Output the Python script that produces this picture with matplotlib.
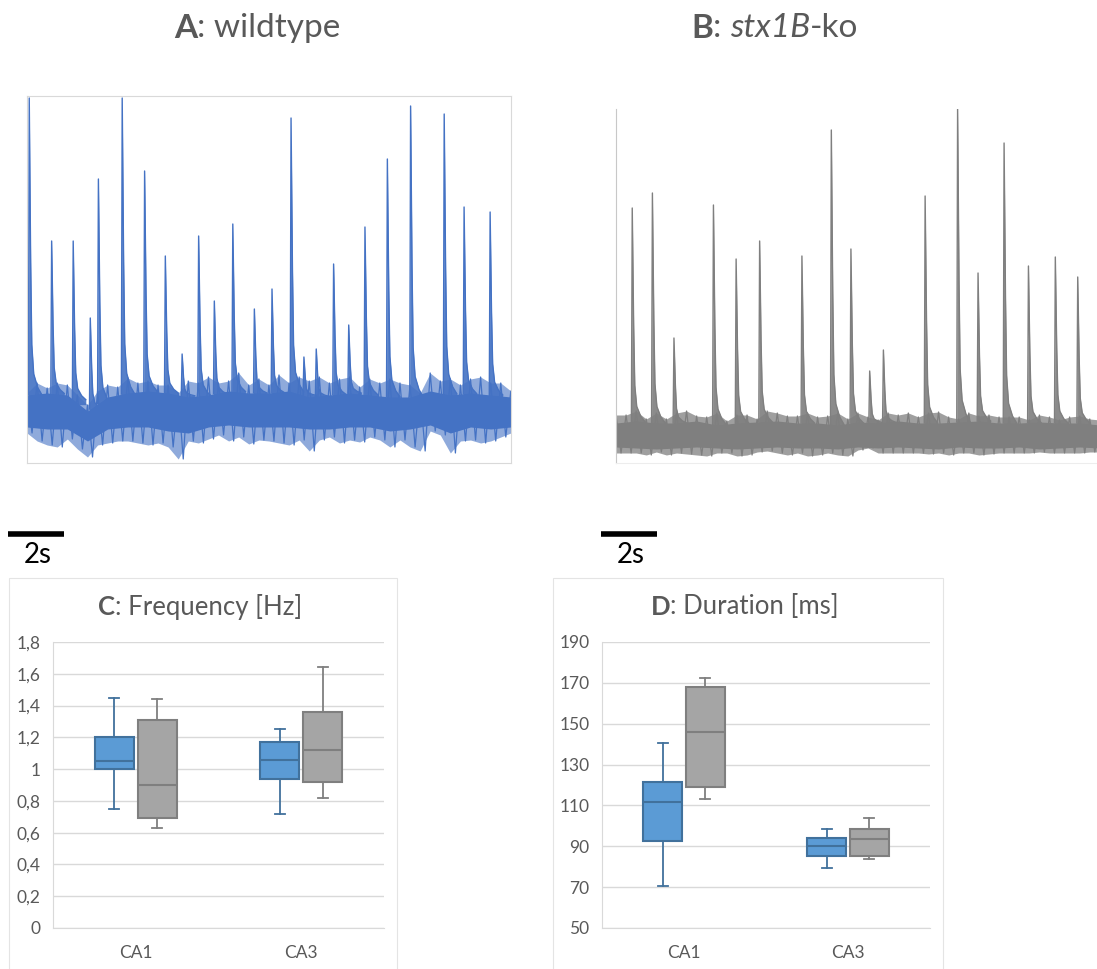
import numpy as np
import matplotlib
matplotlib.use("Agg")
import matplotlib.pyplot as plt
from matplotlib.patches import Rectangle
from matplotlib.ticker import FuncFormatter

plt.rcParams['font.family'] = ['Lato', 'DejaVu Sans']
plt.rcParams['mathtext.fontset'] = 'custom'
plt.rcParams['mathtext.rm'] = 'Lato'
plt.rcParams['mathtext.bf'] = 'Lato:bold'
plt.rcParams['mathtext.it'] = 'Lato:italic'

# ---------------- trace data (time in s, amplitude in arbitrary units) ----------------
A_SPIKE_T = [0.08, 0.88, 1.65, 2.26, 2.55, 3.40, 4.20, 4.94, 5.54, 6.13, 6.69, 7.35, 8.12,
             8.75, 9.43, 9.89, 10.33, 10.95, 11.49, 12.07, 12.87, 13.70, 14.90, 15.61, 16.54]
A_SPIKE_H = [365, 222, 222, 145, 284, 365, 292, 207, 109, 227, 162, 239, 154,
             174, 345, 106, 114, 199, 138, 236, 304, 357, 349, 256, 251]

# envelope of the baseline noise, read every 0.36 s
A_BAND_HI = [70, 80, 75, 80, 78, 68, 58, 72, 78, 76, 85, 80, 82, 78, 78, 70, 82, 80, 86, 80,
             82, 90, 78, 84, 78, 88, 80, 86, 82, 86, 80, 84, 86, 76, 84, 80, 84, 80, 78, 70,
             90, 82, 84, 78, 84, 86, 80, 80, 72]
A_BAND_LO = [30, 22, 18, 16, 24, 14, 6, 18, 20, 22, 22, 20, 18, 20, 16, 4, 22, 20, 24, 28,
             22, 26, 19, 23, 22, 20, 18, 23, 12, 23, 26, 20, 23, 21, 26, 23, 16, 23, 16, 12,
             32, 28, 10, 22, 23, 20, 22, 26, 30]
# dense core of the baseline, read every 0.72 s
A_CORE_HI = [68, 70, 68, 52, 66, 70, 72, 70, 66, 68, 72, 70, 70, 72, 66, 68, 70, 68, 66, 66,
             72, 68, 70, 68, 66]
A_CORE_LO = [36, 34, 34, 22, 34, 36, 36, 32, 30, 36, 38, 36, 36, 36, 34, 34, 36, 36, 32, 34,
             38, 30, 36, 34, 36]

B_SPIKE_T = [0.58, 1.30, 2.07, 3.48, 4.29, 5.13, 6.64, 7.69, 8.39, 9.06, 9.55, 11.04, 12.20,
             12.93, 13.86, 14.73, 15.69, 16.49]
B_SPIKE_H = [255, 270, 125, 258, 204, 222, 207, 333, 214, 92, 113, 267, 354, 190, 320, 197,
             206, 186]

B_BAND_HI = [48, 48, 52, 44, 50, 44, 50, 52, 47, 46, 50, 42, 48, 48, 44, 52, 50, 47, 47, 50,
             46, 47, 50, 44, 50, 46, 43, 50, 48, 50, 46, 50, 51, 46, 44, 50, 47, 48, 46, 46,
             46, 43, 48, 46, 43, 46, 47, 44, 43]
B_BAND_LO = [10, 10, 10, 8, 11, 8, 10, 9, 8, 7, 10, 10, 7, 8, 11, 12, 10, 8, 10, 7,
             8, 10, 8, 7, 13, 15, 10, 10, 10, 10, 10, 9, 10, 8, 10, 10, 8, 9, 10, 10,
             10, 10, 11, 10, 10, 10, 10, 11, 11]
B_CORE_HI = [40, 42, 40, 40, 42, 38, 40, 41, 42, 40, 40, 38, 41, 40, 42, 40, 40, 41, 42, 40,
             40, 41, 40, 40, 38]
B_CORE_LO = [16, 15, 14, 15, 16, 15, 14, 15, 16, 15, 15, 14, 16, 15, 16, 15, 14, 16, 15, 15,
             16, 14, 15, 16, 15]

# ---------------- box plot data: (whisker low, Q1, median, Q3, whisker high) ----------------
CATEGORIES = ["CA1", "CA3"]
FREQ_WT = [(0.75, 1.00, 1.05, 1.20, 1.45), (0.72, 0.94, 1.06, 1.17, 1.25)]
FREQ_KO = [(0.63, 0.69, 0.90, 1.31, 1.44), (0.82, 0.92, 1.12, 1.36, 1.64)]
DUR_WT = [(70.8, 92.8, 111.7, 121.3, 140.4), (79.6, 85.3, 89.9, 94.1, 98.7)]
DUR_KO = [(113.2, 119.0, 146.0, 168.0, 172.6), (84.0, 85.3, 93.5, 98.7, 103.7)]

BLUE_TRACE = '#4472C4'
GRAY_TRACE = '#7F7F7F'
BLUE_FILL, BLUE_EDGE = '#5B9BD5', '#41719C'
GRAY_FILL, GRAY_EDGE = '#A5A5A5', '#7F7F7F'
TXT = '#595959'
GRID = '#D9D9D9'

W, H = 1097, 969
fig = plt.figure(figsize=(W / 100, H / 100), dpi=100)
renderer = fig.canvas.get_renderer()


def rect(l, t, r, b):
    return [l / W, 1 - b / H, (r - l) / W, (b - t) / H]


# spike template (offset in s, fraction of amplitude)
SPIKE_DT = np.array([-0.03, 0.0, 0.05, 0.09, 0.16, 0.30, 0.45])
SPIKE_SHAPE = np.array([0.0, 1.0, 0.45, 0.17, 0.07, 0.025, 0.0])


def draw_trace(ax, band_hi, band_lo, core_hi, core_lo, spike_t, spike_h, color, fringe):
    t_band = np.linspace(0, 0.36 * (len(band_hi) - 1), len(band_hi))
    t_core = np.linspace(0, t_band[-1], len(core_hi))
    ax.fill_between(t_band, band_lo, band_hi, color=color, alpha=fringe, lw=0)
    ax.fill_between(t_core, core_lo, core_hi, color=color, lw=0)
    # noise texture: zig-zag between the read upper and lower envelope values
    zx = np.column_stack([t_band, t_band + 0.18]).ravel()
    zy = np.column_stack([band_hi, band_lo]).ravel()
    ax.plot(zx, zy, color=color, lw=0.9)
    base = np.interp(spike_t, t_core, core_hi)
    for t, h, b in zip(spike_t, spike_h, base):
        xs = t + SPIKE_DT
        ys = b + SPIKE_SHAPE * (h - b)
        ax.fill_between(xs, b - 5, ys, color=color, lw=0, alpha=0.9)
        ax.plot(xs, ys, color=color, lw=1.0)


def scale_bar(ax, x0, y):
    ax.plot([x0, x0 + 2], [y, y], color='black', lw=4, clip_on=False, solid_capstyle='butt')
    ax.text(x0 + 1.05, y - 21, "2s", ha='center', va='center', fontsize=20, color='black',
            clip_on=False)


def rich_text(xc, yc, parts, size):
    # place differently styled pieces next to each other, centred on xc (pixels)
    items = []
    for s, weight, style in parts:
        t = fig.text(0, 1 - yc / H, s, fontsize=size, fontweight=weight, fontstyle=style,
                     color=TXT, va='center', ha='left')
        items.append((t, t.get_window_extent(renderer).width))
    x = xc - sum(w for _, w in items) / 2
    for t, w in items:
        t.set_x(x / W)
        x += w


# ---- A: wildtype
axA = fig.add_axes(rect(27, 96, 511, 463))
draw_trace(axA, A_BAND_HI, A_BAND_LO, A_CORE_HI, A_CORE_LO, A_SPIKE_T, A_SPIKE_H,
           BLUE_TRACE, 0.6)
axA.set_xlim(0, 484 / 28)
axA.set_ylim(0, 367)
axA.set_xticks([])
axA.set_yticks([])
for s in axA.spines.values():
    s.set_color(GRID)
    s.set_linewidth(0.8)
scale_bar(axA, -0.68, -71)

# ---- B: stx1B-ko
axB = fig.add_axes(rect(616, 109, 1097, 463))
draw_trace(axB, B_BAND_HI, B_BAND_LO, B_CORE_HI, B_CORE_LO, B_SPIKE_T, B_SPIKE_H,
           GRAY_TRACE, 0.75)
axB.set_xlim(0, 481 / 28)
axB.set_ylim(0, 354)
axB.set_xticks([])
axB.set_yticks([])
axB.spines['top'].set_visible(False)
axB.spines['right'].set_visible(False)
axB.spines['left'].set_color('#C8C8C8')
axB.spines['bottom'].set_color('#EDEDED')
scale_bar(axB, -0.54, -71)

rich_text(257, 28, [("A", 'bold', 'normal'), (": wildtype", 'normal', 'normal')], 24)
rich_text(775, 28, [("B", 'bold', 'normal'), (": ", 'normal', 'normal'),
                    ("stx1B", 'normal', 'italic'), ("-ko", 'normal', 'normal')], 24)


# ---- box plots
def stats(rows):
    return [dict(whislo=r[0], q1=r[1], med=r[2], q3=r[3], whishi=r[4], fliers=[]) for r in rows]


def box_panel(frame, axrect, letter, title, wt, ko, ylim, yticks):
    fig.add_artist(Rectangle((frame[0] / W, 1 - frame[3] / H), (frame[2] - frame[0]) / W,
                             (frame[3] - frame[1]) / H, transform=fig.transFigure,
                             fill=False, edgecolor='#E4E4E4', lw=0.8))
    rich_text((frame[0] + frame[2]) / 2 - 3, frame[1] + 29,
              [(letter, 'bold', 'normal'), (title, 'normal', 'normal')], 18.5)
    ax = fig.add_axes(rect(*axrect))
    x = np.arange(len(CATEGORIES))
    for data, off, fc, ec in [(wt, -0.13, BLUE_FILL, BLUE_EDGE), (ko, 0.13, GRAY_FILL, GRAY_EDGE)]:
        ax.bxp(stats(data), positions=x + off, widths=0.235, capwidths=0.06,
               patch_artist=True, showfliers=False,
               boxprops=dict(facecolor=fc, edgecolor=ec, linewidth=1.5),
               medianprops=dict(color=ec, linewidth=1.5),
               whiskerprops=dict(color=ec, linewidth=1.3),
               capprops=dict(color=ec, linewidth=1.3), zorder=3)
    ax.set_xlim(-0.5, len(CATEGORIES) - 0.5)
    ax.set_xticks(x)
    ax.set_xticklabels(CATEGORIES)
    ax.set_ylim(*ylim)
    ax.set_yticks(yticks)
    ax.yaxis.set_major_formatter(FuncFormatter(lambda v, p: f"{v:g}".replace('.', ',')))
    ax.grid(axis='y', color=GRID, lw=1.0, zorder=0)
    ax.set_axisbelow(True)
    ax.tick_params(length=0, labelsize=12.5, colors=TXT)
    ax.tick_params(axis='y', pad=9)
    ax.tick_params(axis='x', pad=12)
    ax.spines['top'].set_visible(False)
    ax.spines['right'].set_visible(False)
    ax.spines['left'].set_color(GRID)
    ax.spines['bottom'].set_color(GRID)
    return ax


box_panel((9, 578, 397, 975), (53, 642, 384, 928), "C", ": Frequency [Hz]",
          FREQ_WT, FREQ_KO, (0, 1.8), np.arange(0, 1.81, 0.2))
box_panel((553, 578, 943, 975), (602, 642, 930, 928), "D", ": Duration [ms]",
          DUR_WT, DUR_KO, (50, 190), np.arange(50, 191, 20))

fig.savefig("out.png", dpi=100)
